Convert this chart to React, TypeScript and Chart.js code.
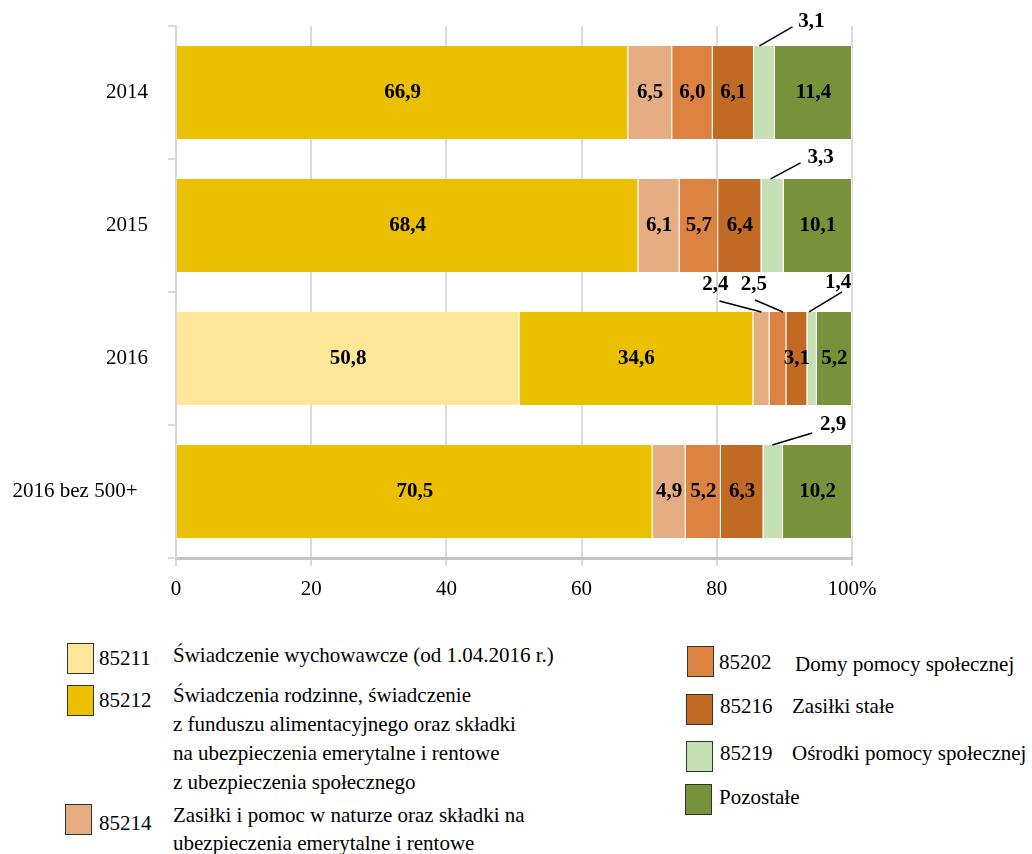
import React, { useEffect, useRef } from 'react';
import { Chart, registerables } from 'chart.js';

Chart.register(...registerables);

// ---- data ----
const categories = ['2014', '2015', '2016', '2016 bez 500+'];
const seriesCodes = ['85211', '85212', '85214', '85202', '85216', '85219', 'Pozostałe'];
const s85211 = [0, 0, 50.8, 0];
const s85212 = [66.9, 68.4, 34.6, 70.5];
const s85214 = [6.5, 6.1, 2.4, 4.9];
const s85202 = [6.0, 5.7, 2.5, 5.2];
const s85216 = [6.1, 6.4, 3.1, 6.3];
const s85219 = [3.1, 3.3, 1.4, 2.9];
const sPozostale = [11.4, 10.1, 5.2, 10.2];
const xTickValues = [0, 20, 40, 60, 80, 100];

const seriesValues = [s85211, s85212, s85214, s85202, s85216, s85219, sPozostale];

const legendTexts: Record<string, string[]> = {
  '85211': ['Świadczenie wychowawcze (od 1.04.2016 r.)'],
  '85212': [
    'Świadczenia rodzinne, świadczenie',
    'z funduszu alimentacyjnego oraz składki',
    'na ubezpieczenia emerytalne i rentowe',
    'z ubezpieczenia społecznego',
  ],
  '85214': ['Zasiłki i pomoc w naturze oraz składki na', 'ubezpieczenia emerytalne i rentowe'],
  '85202': ['Domy pomocy społecznej'],
  '85216': ['Zasiłki stałe'],
  '85219': ['Ośrodki pomocy społecznej'],
  'Pozostałe': [],
};

// ---- styles ----
const colors = ['#FFE699', '#EBC000', '#E7AD82', '#DC8341', '#C06A24', '#C5E0B4', '#76933C'];
const FONT = '"Liberation Serif", "Times New Roman", serif';

// callout layout (offsets relative to segment centre / bar top)
const callouts = [
  { cat: 0, ds: 5, sx: -5, ex: 28, ey: -19, tx: 47, ty: -24 },
  { cat: 1, ds: 5, sx: -2, ex: 28, ey: -16, tx: 48, ty: -21 },
  { cat: 2, ds: 2, sx: 0, ex: -42, ey: -11, tx: -46, ty: -27 },
  { cat: 2, ds: 3, sx: 5, ex: -23, ey: -12, tx: -24, ty: -27 },
  { cat: 2, ds: 5, sx: -3, ex: 30, ey: -20, tx: 26, ty: -29 },
  { cat: 3, ds: 5, sx: -1, ex: 39, ey: -12, tx: 60, ty: -20 },
];

const labelPlugin = {
  id: 'segLabels',
  afterDatasetsDraw(chart: any) {
    const ctx = chart.ctx;
    ctx.save();
    ctx.font = `bold 21px ${FONT}`;
    ctx.fillStyle = '#000';
    ctx.textAlign = 'center';
    ctx.textBaseline = 'middle';
    chart.data.datasets.forEach((ds: any, di: number) => {
      const meta = chart.getDatasetMeta(di);
      meta.data.forEach((el: any, ci: number) => {
        const v = ds.data[ci];
        if (!v) return;
        const { x, y, base, height } = el.getProps(['x', 'y', 'base', 'height'], true);
        const cx = (x + base) / 2;
        const text = v.toFixed(1).replace('.', ',');
        const co = callouts.find((c) => c.cat === ci && c.ds === di);
        if (co) {
          const top = y - height / 2;
          ctx.beginPath();
          ctx.moveTo(cx + co.sx, top);
          ctx.lineTo(cx + co.ex, top + co.ey);
          ctx.lineWidth = 1.5;
          ctx.strokeStyle = '#000';
          ctx.stroke();
          ctx.fillText(text, cx + co.tx, top + co.ty);
        } else {
          ctx.fillText(text, cx, y);
        }
      });
    });
    ctx.restore();
  },
};

const textStyle: React.CSSProperties = {
  position: 'absolute',
  fontFamily: FONT,
  fontSize: 21,
  lineHeight: '29px',
  color: '#000',
  whiteSpace: 'nowrap',
};

function Swatch({ x, y, color }: { x: number; y: number; color: string }) {
  return (
    <div
      style={{
        position: 'absolute',
        left: x,
        top: y,
        width: 27,
        height: 31,
        boxSizing: 'border-box',
        border: '1px solid #333',
        background: color,
      }}
    />
  );
}

function Txt({ x, cy, children }: { x: number; cy: number; children: React.ReactNode }) {
  return <div style={{ ...textStyle, left: x, top: cy - 14.5 }}>{children}</div>;
}

export default function App() {
  const ref = useRef<HTMLCanvasElement>(null);

  useEffect(() => {
    if (!ref.current) return;
    const chart = new Chart(ref.current, {
      type: 'bar',
      data: {
        labels: categories,
        datasets: seriesCodes.map((code, i) => ({
          label: code,
          data: seriesValues[i],
          backgroundColor: colors[i],
          borderColor: 'rgba(255,255,255,0.75)',
          borderWidth: { top: 0, bottom: 0, left: 0, right: 1 },
          borderSkipped: false,
          categoryPercentage: 1,
          barPercentage: 0.7,
        })),
      },
      options: {
        indexAxis: 'y',
        responsive: false,
        animation: false,
        devicePixelRatio: 1,
        layout: { padding: { left: 0, top: 26, right: 180, bottom: 0 } },
        plugins: { legend: { display: false }, tooltip: { enabled: false } },
        scales: {
          x: {
            type: 'linear',
            stacked: true,
            min: 0,
            max: 100,
            afterBuildTicks: (s: any) => {
              s.ticks = xTickValues.map((v) => ({ value: v }));
            },
            afterFit: (s: any) => {
              s.height = 62;
            },
            ticks: {
              font: { family: FONT, size: 21 },
              color: '#000',
              padding: 11,
              maxRotation: 0,
              callback: (v: any) => (Number(v) === 100 ? '100%' : String(v)),
            },
            grid: { color: '#d9d9d9', lineWidth: 2, tickLength: 8, drawTicks: true },
            border: { display: true, color: '#c4c4c4', width: 3 },
          },
          y: {
            type: 'category',
            stacked: true,
            afterFit: (s: any) => {
              s.width = 176;
              s.paddingTop = 0;
              s.paddingBottom = 0;
            },
            ticks: {
              font: { family: FONT, size: 21 },
              color: '#000',
              padding: 20,
              // the long label sits a little further left in the original
              callback: (_v: any, i: number) =>
                categories[i].length > 6 ? categories[i] + '\u00a0\u00a0' : categories[i],
            },
            grid: {
              drawOnChartArea: false,
              drawTicks: true,
              tickLength: 8,
              color: '#d9d9d9',
              lineWidth: 2,
              offset: true,
            },
            border: { display: true, color: '#d9d9d9', width: 2 },
          },
        },
      },
      plugins: [labelPlugin],
    });
    return () => chart.destroy();
  }, []);

  const leftY = [643, 685, 804];
  const rightY = [646, 694, 741, 784];

  return (
    <div style={{ position: 'absolute', left: 0, top: 0, width: 1032, height: 854, background: '#fff', overflow: 'hidden' }}>
      <canvas ref={ref} width={1032} height={620} style={{ display: 'block', width: 1032, height: 620 }} />

      {/* left legend column */}
      <Swatch x={67} y={leftY[0]} color={colors[0]} />
      <Txt x={99} cy={658}>{seriesCodes[0]}</Txt>
      <Txt x={173} cy={655}>{legendTexts['85211'][0]}</Txt>

      <Swatch x={67} y={leftY[1]} color={colors[1]} />
      <Txt x={99} cy={700}>{seriesCodes[1]}</Txt>
      {legendTexts['85212'].map((t, i) => (
        <Txt key={t} x={173} cy={695 + i * 29}>{t}</Txt>
      ))}

      <Swatch x={65} y={leftY[2]} color={colors[2]} />
      <Txt x={99} cy={823}>{seriesCodes[2]}</Txt>
      {legendTexts['85214'].map((t, i) => (
        <Txt key={t} x={173} cy={815 + i * 28}>{t}</Txt>
      ))}

      {/* right legend column */}
      <Swatch x={687} y={rightY[0]} color={colors[3]} />
      <Txt x={719} cy={662}>{seriesCodes[3]}</Txt>
      <Txt x={795} cy={664}>{legendTexts['85202'][0]}</Txt>

      <Swatch x={686} y={rightY[1]} color={colors[4]} />
      <Txt x={720} cy={706}>{seriesCodes[4]}</Txt>
      <Txt x={792} cy={706}>{legendTexts['85216'][0]}</Txt>

      <Swatch x={686} y={rightY[2]} color={colors[5]} />
      <Txt x={720} cy={753}>{seriesCodes[5]}</Txt>
      <Txt x={792} cy={753}>{legendTexts['85219'][0]}</Txt>

      <Swatch x={685} y={rightY[3]} color={colors[6]} />
      <Txt x={719} cy={797}>{seriesCodes[6]}</Txt>
    </div>
  );
}
